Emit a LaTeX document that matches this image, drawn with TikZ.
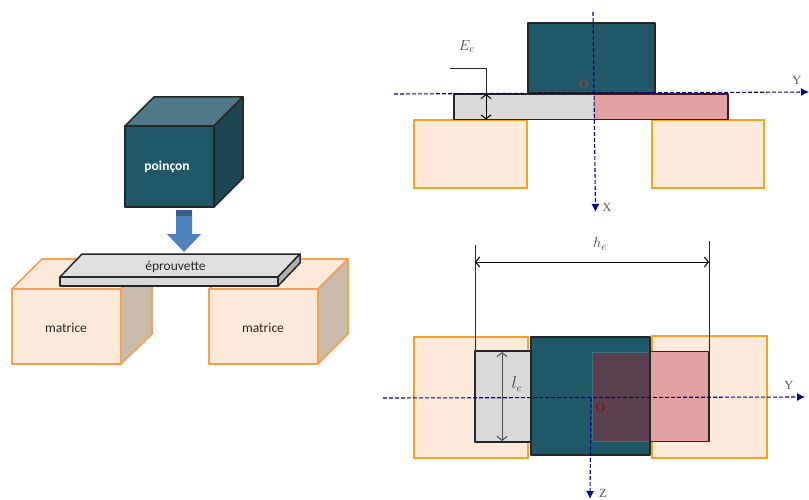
\documentclass[tikz,border=0pt]{standalone}
\usepackage{amsmath}
\usepackage{fontspec}
\setmainfont{Carlito}
\newfontfamily\axisfont{Liberation Serif}
\usetikzlibrary{arrows.meta,positioning}
\definecolor{punchcol}{HTML}{215868}
\definecolor{punchtop}{HTML}{4F7A89}
\definecolor{punchside}{HTML}{1D4653}
\definecolor{matcol}{HTML}{FDEADA}
\definecolor{matside}{HTML}{CBBBAD}
\definecolor{matline}{HTML}{F9A04C}
\definecolor{matline2}{HTML}{F9A020}
\definecolor{platecol}{HTML}{D9D9D9}
\definecolor{platetop}{HTML}{E0E0E0}
\definecolor{plateside}{HTML}{B0B0B0}
\definecolor{pinkcol}{HTML}{E2A2A2}
\definecolor{pinkline}{HTML}{4A1414}
\definecolor{overlapcol}{HTML}{5A3F4D}
\definecolor{axiscol}{HTML}{00008B}
\definecolor{pressblue}{HTML}{4F81BD}
\definecolor{pressdark}{HTML}{385D8A}
\tikzset{%
	punchface/.style = {draw=black!85, line width=1.5pt, line join=round},
	plateface/.style = {draw=black!85, line width=1.5pt, line join=round},
	matface/.style   = {draw=matline, line width=1.6pt, line join=round},
	matflat/.style   = {draw=matline2, fill=matcol, line width=1.6pt},
	axis/.style      = {draw=axiscol, dash pattern=on 4pt off 2pt, line width=1.1pt, -{Latex[length=8pt,width=8pt,fill=axiscol]}},
	dim/.style       = {line width=1pt, {Straight Barb[length=4pt,width=10pt]}-{Straight Barb[length=4pt,width=10pt]}},
	thin line/.style = {draw=black!85, line width=1pt},
	lab/.style       = {font=\fontsize{13.5}{15}\selectfont, text=black!85, inner sep=0pt},
	axlab/.style     = {font=\axisfont\fontsize{12.5}{14}\selectfont, text=black!65, inner sep=0pt},
	dimlab/.style    = {font=\fontsize{15}{17}\selectfont, text=black!75, inner sep=0pt},
}
\begin{document}
\begin{tikzpicture}[x=1pt,y=-1pt]
	\useasboundingbox (0,0) rectangle (809,500);
	% left view: matrices
	\filldraw[matface,fill=matcol] (12,289) -- (42,259) -- (152,259) -- (121,289) -- cycle;
	\filldraw[matface,fill=matside] (121,289) -- (152,259) -- (152,334) -- (121,364) -- cycle;
	\filldraw[matface,fill=matcol] (12,289) rectangle (121,364);
	\filldraw[matface,fill=matcol] (209,289) -- (239,259) -- (348,259) -- (318,289) -- cycle;
	\filldraw[matface,fill=matside] (318,289) -- (348,259) -- (348,334) -- (318,364) -- cycle;
	\filldraw[matface,fill=matcol] (209,289) rectangle (318,364);
	\node[lab] (mat1) at (66,328) {matrice};
	\node[lab] (mat2) at (263,328) {matrice};
	% plate
	\filldraw[plateface,fill=platetop] (60,277) -- (82,254) -- (300,254) -- (278,277) -- cycle;
	\filldraw[plateface,fill=plateside] (278,277) -- (300,254) -- (300,263) -- (278,286) -- cycle;
	\filldraw[plateface,fill=platecol] (60,277) rectangle (278,286);
	\node[lab] (plate) at (175.5,266.5) {éprouvette};
	% punch
	\filldraw[punchface,fill=punchtop] (125,126) -- (154,97) -- (243,97) -- (214,126) -- cycle;
	\filldraw[punchface,fill=punchside] (214,126) -- (243,97) -- (243,178) -- (214,207) -- cycle;
	\filldraw[punchface,fill=punchcol] (125,126) rectangle (214,207);
	\node[lab,text=white,font=\bfseries\fontsize{13.5}{15}\selectfont] (punch) at (167,167) {poinçon};
	% press arrow
	\fill[pressblue] (176,210) -- (192,210) -- (192,234) -- (201,234) -- (184,252) -- (167,234) -- (176,234) -- cycle;
	\fill[pressdark] (176,210) rectangle (192,216);
	% front view
	\draw[matflat] (414,120) rectangle (527,188);
	\draw[matflat] (652,120) rectangle (764,188);
	\filldraw[punchface,fill=punchcol] (528,23) rectangle (655,93);
	\fill[platecol] (454,94) rectangle (594,119.5);
	\fill[pinkcol] (594,94) rectangle (728,119.5);
	\draw[plateface] (594,94) -- (454,94) -- (454,119.5) -- (594,119.5);
	\draw[plateface,draw=pinkline] (594,94) -- (728,94) -- (728,119.5) -- (594,119.5);
	\coordinate (leadA) at (450,69);
	\coordinate (leadB) at (486,69);
	\coordinate (thickA) at (486,94);
	\coordinate (thickB) at (486,119.5);
	\draw[thin line] (leadA) -- (leadB) -- (thickA);
	\draw[dim] (thickA) -- (thickB);
	\node[dimlab] (Ee) at (467,47) {$E_e$};
	\coordinate (yA) at (394,94);
	\coordinate (yB) at (809,92);
	\coordinate (xA) at (593,12);
	\coordinate (xB) at (595.5,212);
	\draw[axis] (yA) -- (yB);
	\draw[axis] (xA) -- (xB);
	\node[axlab,text=red!30!black!70] (O1) at (584,84) {O};
	\node[axlab] (Y1) at (797,80) {Y};
	\node[axlab] (X1) at (607,207) {X};
	% top view
	\draw[matflat] (414,337) rectangle (528,458);
	\draw[matflat] (652,336) rectangle (767,458);
	\filldraw[plateface,fill=platecol] (475,351) rectangle (531,442);
	\filldraw[plateface,fill=pinkcol] (650,351.5) rectangle (709,441.5);
	\filldraw[punchface,fill=punchcol] (531,337) rectangle (650,455);
	\fill[overlapcol] (592,352) rectangle (650,441);
	\draw[punchcol!85!white,line width=1pt] (650,352) -- (592,352) -- (592,441) -- (650,441);
	\draw[punchface] (650,337) -- (650,455);
	\coordinate (heA) at (475,262);
	\coordinate (heB) at (709,262);
	\draw[thin line] (475,245) -- (475,351);
	\draw[thin line] (709,241) -- (709,351);
	\draw[dim] (heA) -- (heB);
	\node[dimlab] (he) at (600,244) {$h_e$};
	\coordinate (leA) at (502,352);
	\coordinate (leB) at (502,441);
	\draw[dim,black!70] (leA) -- (leB);
	\node[dimlab,font=\fontsize{16}{18}\selectfont] (le) at (517,384) {$l_e$};
	\coordinate (y2A) at (383,398);
	\coordinate (y2B) at (805,397);
	\coordinate (zA) at (591,398);
	\coordinate (zB) at (590,499);
	\draw[axis] (y2A) -- (y2B);
	\draw[axis] (zA) -- (zB);
	\node[axlab,text=red!60!black] (O2) at (600.5,407) {O};
	\node[axlab] (Y2) at (789,385) {Y};
	\node[axlab] (Z2) at (603,493) {Z};
\end{tikzpicture}
\end{document}
